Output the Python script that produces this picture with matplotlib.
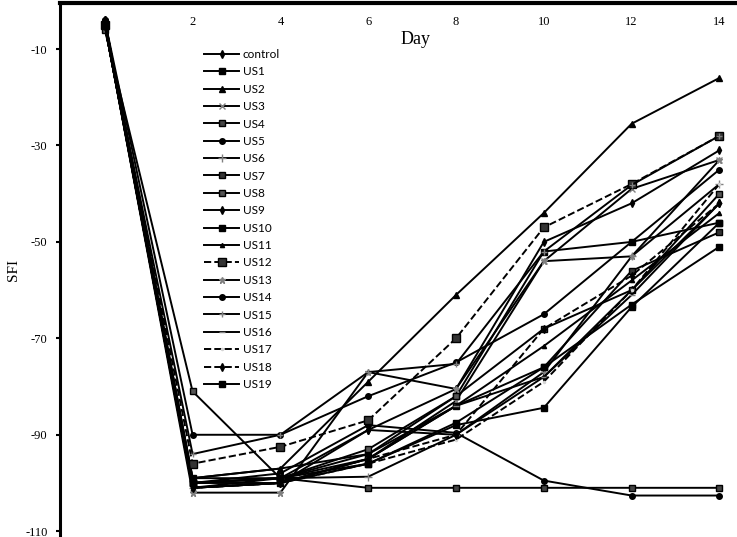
import numpy as np
import matplotlib
matplotlib.use("Agg")
import matplotlib.pyplot as plt

plt.rcParams['axes.unicode_minus'] = False

days = [0, 2, 4, 6, 8, 10, 12, 14]
y_ticks = [-10, -30, -50, -70, -90, -110]
x_ticks = [2, 4, 6, 8, 10, 12, 14]

control = [-4, -100, -99, -89, -90, -78, -60, -42]
us1 = [-5, -99, -99, -94, -82, -52, -50, -46]
us2 = [-4, -99, -97, -79, -61, -44, -25.5, -16]
us3 = [-5, -101, -100, -95, -83, -54, -39, -33]
us4 = [-5, -100, -99, -101, -101, -101, -101, -101]
us5 = [-4, -100, -98, -88, -89.6, -99.5, -102.6, -102.6]
us6 = [-5, -101, -99, -98.7, -90, -77, -53, -38]
us7 = [-5, -100, -99, -95, -84, -76, -56, -48]
us8 = [-6, -81, -99, -93, -82, -68, -60, -40]
us9 = [-4, -101, -100, -89, -80.5, -50, -42, -31]
us10 = [-5, -100, -100, -96, -88, -84.4, -63.5, -46]
us11 = [-4, -99, -97, -94, -84, -71.6, -58, -44]
us12 = [-5, -96, -92.5, -87, -70, -47, -38, -28]
us13 = [-5, -102, -102, -77, -80.5, -54, -53, -33]
us14 = [-4, -90, -90, -82, -75, -65, -50, -35]
us15 = [-5, -94, -90, -77, -75.3, -52, -38.2, -28]
us16 = [-5, -101, -100, -95, -84, -78, -61, -42]
us17 = [-5, -101, -100, -96, -91, -79, -60, -38]
us18 = [-4, -101, -100, -95, -90, -68, -57, -42]
us19 = [-5, -100, -99, -96, -87.5, -76, -63, -51]

labels = ['control'] + ['US' + str(i) for i in range(1, 20)]
series = [control, us1, us2, us3, us4, us5, us6, us7, us8, us9, us10,
          us11, us12, us13, us14, us15, us16, us17, us18, us19]

# marker, marker face colour, size, linestyle
styles = [
    ('d', 'black', 4, '-'),
    ('s', 'black', 4, '-'),
    ('^', 'black', 4, '-'),
    ('x', 'grey', 5, '-'),
    ('s', '#444444', 5, '-'),
    ('o', 'black', 4, '-'),
    ('+', 'grey', 6, '-'),
    ('s', '#333333', 5, '-'),
    ('s', '#555555', 5, '-'),
    ('d', 'black', 4, '-'),
    ('s', 'black', 4, '-'),
    ('^', 'black', 3, '-'),
    ('s', '#333333', 6, '--'),
    ('*', 'grey', 5, '-'),
    ('o', 'black', 4, '-'),
    ('+', 'grey', 5, '-'),
    ('_', 'grey', 5, '-'),
    ('.', 'lightgrey', 3, '--'),
    ('d', 'black', 4, '--'),
    ('s', 'black', 4, '-'),
]

fig = plt.figure(figsize=(7.37, 5.37), dpi=100)
ax = fig.add_axes([60 / 737, 0, 677 / 737, 534 / 537])

for vals, lab, (mk, mc, ms, ls) in zip(series, labels, styles):
    edge = mc if mc in ('grey', 'lightgrey') else 'black'
    ax.plot(days, vals, color='black', lw=1.4, ls=ls, marker=mk,
            markersize=ms, markerfacecolor=mc, markeredgecolor=edge,
            label=lab)

ax.set_xlim(-1.02, 14.4)
ax.set_ylim(-111.2, -0.46)

ax.spines['right'].set_visible(False)
ax.spines['bottom'].set_visible(False)
ax.spines['top'].set_linewidth(3)
ax.spines['left'].set_linewidth(2.2)

ax.xaxis.tick_top()
ax.set_xticks(x_ticks)
ax.set_xticklabels([str(t) for t in x_ticks], family='Liberation Serif', fontsize=9)
ax.tick_params(axis='x', length=0, pad=-18)

ax.set_yticks(y_ticks)
ax.set_yticklabels([str(t) for t in y_ticks], family='Liberation Serif', fontsize=9)
ax.tick_params(axis='y', length=3, width=1.5, direction='out', pad=6)

fig.text(416 / 737, 1 - 40 / 537, 'Day', ha='center', va='center',
         family='Liberation Serif', fontsize=13)
fig.text(14 / 737, 1 - 270 / 537, 'SFI', ha='center', va='center', rotation=90,
         family='Liberation Serif', fontsize=11)

leg = ax.legend(loc='upper left', bbox_to_anchor=(204 / 737, 1 - 49 / 537),
                bbox_transform=fig.transFigure, frameon=False,
                prop={'family': 'Lato', 'size': 8.5}, labelspacing=0.54,
                handlelength=3.0, handletextpad=0.3, borderaxespad=0, borderpad=0)

fig.savefig('out.png', dpi=100)
